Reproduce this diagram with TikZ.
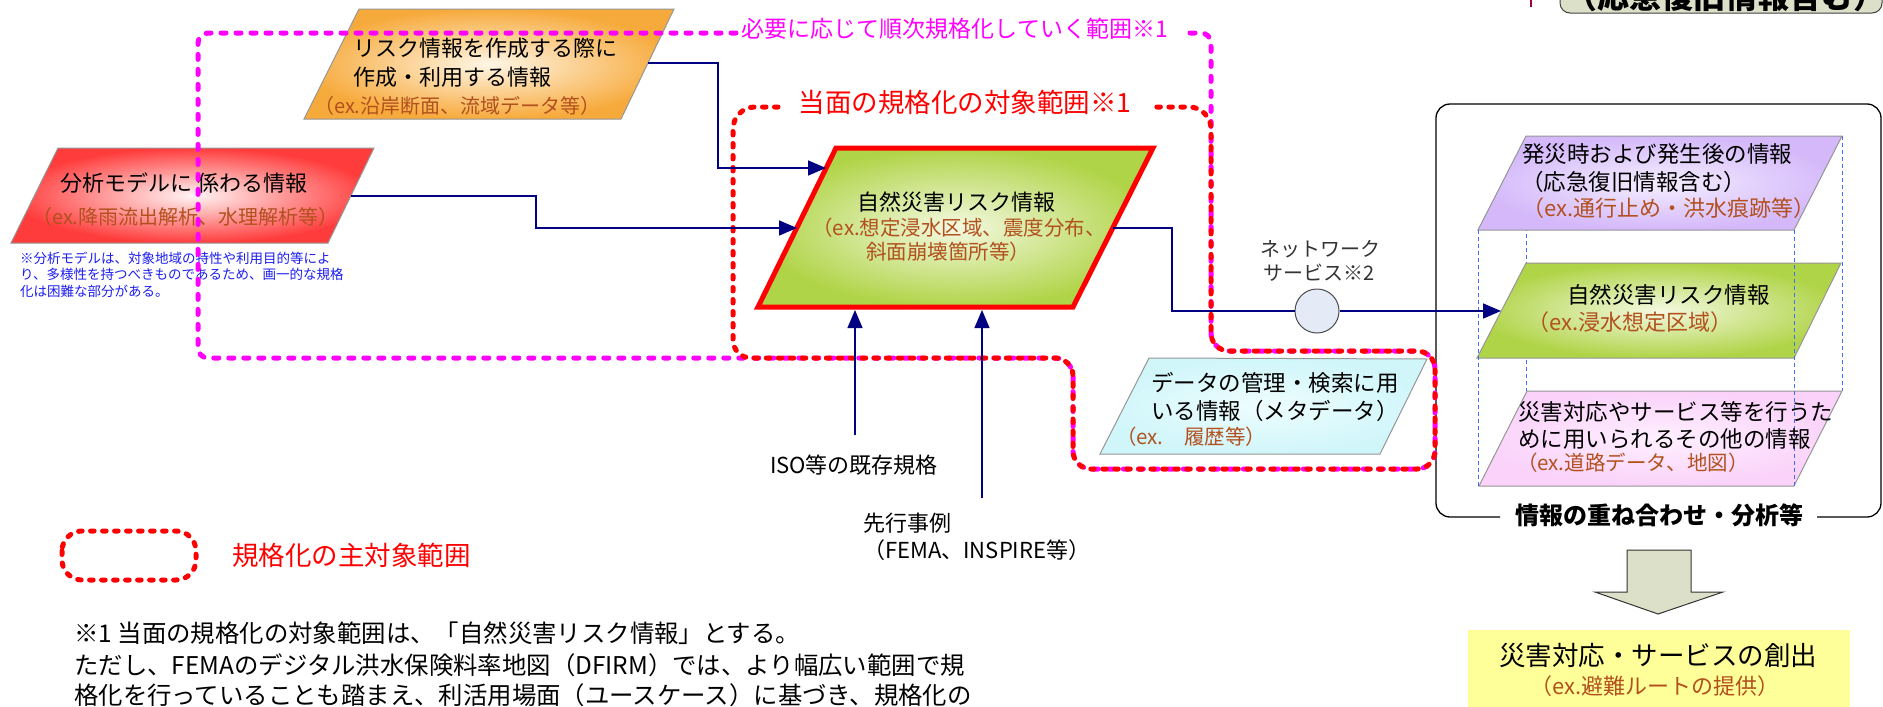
\documentclass[tikz,border=0pt]{standalone}
\usepackage{fontspec}
\setmainfont{Noto Sans CJK JP}
\usetikzlibrary{arrows.meta}
\definecolor{navyc}{RGB}{0,0,128}
\definecolor{exbrown}{RGB}{178,80,30}
\definecolor{magc}{RGB}{255,0,255}
\definecolor{redc}{RGB}{255,0,0}
\definecolor{notec}{RGB}{30,30,240}
\definecolor{edgegray}{RGB}{150,150,150}
\definecolor{khaki}{RGB}{221,224,201}
\definecolor{layerblue}{RGB}{60,110,255}
\definecolor{orOut}{RGB}{247,170,60}\definecolor{orIn}{RGB}{255,246,230}
\definecolor{rdOut}{RGB}{255,60,60}\definecolor{rdIn}{RGB}{255,245,245}
\definecolor{gnOut}{RGB}{176,212,72}\definecolor{gnIn}{RGB}{244,249,225}
\definecolor{cyOut}{RGB}{208,246,250}\definecolor{cyIn}{RGB}{238,253,254}
\definecolor{puOut}{RGB}{212,184,250}\definecolor{puIn}{RGB}{244,238,255}
\definecolor{pkOut}{RGB}{250,210,250}\definecolor{pkIn}{RGB}{255,240,255}
\definecolor{circf}{RGB}{228,234,246}
\definecolor{yel}{RGB}{255,255,153}
\definecolor{dgray}{RGB}{51,51,51}
\tikzset{
  fsz/.style={font=\fontsize{#1}{#1}\selectfont},
  tx/.style={inner sep=0pt, anchor=west, text=black},
  ctx/.style={inner sep=0pt, anchor=center, text=black},
  ex/.style={tx, text=exbrown},
  cex/.style={ctx, text=exbrown},
  conn/.style={draw=navyc, line width=1.6pt},
  arr/.style={conn, -{Triangle[length=18pt,width=15pt]}},
  para/.style={draw=edgegray, line width=1pt},
  magdash/.style={draw=magc, line width=5pt, line cap=round, dash pattern=on 5pt off 10pt},
  reddash/.style={draw=redc, line width=5pt, line cap=round, dash pattern=on 3.5pt off 8.5pt},
  layer/.style={draw=layerblue, line width=0.8pt, dash pattern=on 4pt off 3pt},
}
\begin{document}
\begin{tikzpicture}[x=1pt,y=-1pt]
\useasboundingbox (0,0) rectangle (1883,707);
\fill[white] (0,0) rectangle (1883,707);

% top-right partial box
\draw[draw=gray!50!black, fill=khaki, rounded corners=10pt, line width=1pt] (1560,-30) rectangle (1882,13);
\node[ctx, font=\fontsize{32}{32}\selectfont\bfseries] (topbox) at (1725,-4) {（応急復旧情報含む）};
\draw[draw=purple!85!black, line width=2.5pt] (1531,-5) coordinate (tickA) -- (1531,7) coordinate (tickB);

% parallelograms
\shadedraw[para, inner color=orIn, outer color=orOut] (359,9) -- (674,9) -- (621,119) -- (304,119) -- cycle;
\shadedraw[para, inner color=rdIn, outer color=rdOut] (58,148) -- (374,148) -- (328,243) -- (11,243) -- cycle;
\shadedraw[draw=redc, line width=5pt, inner color=gnIn, outer color=gnOut] (836,148) -- (1153,148) -- (1073,307) -- (758,307) -- cycle;
\shadedraw[para, inner color=cyIn, outer color=cyOut] (1149,358) -- (1427,359) -- (1380,454) -- (1100,454) -- cycle;

% right stack
\draw[layer] (1526,136) -- (1526,391);
\draw[layer] (1842,136) -- (1842,391);
\shadedraw[para, inner color=pkIn, outer color=pkOut] (1527,391) -- (1842,391) -- (1794,486) -- (1479,486) -- cycle;
\shadedraw[para, inner color=gnIn, outer color=gnOut] (1526,263) -- (1841,263) -- (1794,358) -- (1477,358) -- cycle;
\shadedraw[para, inner color=puIn, outer color=puOut] (1526,136) -- (1842,136) -- (1794,230) -- (1478,230) -- cycle;
\draw[layer] (1478,230) -- (1478,486);
\draw[layer] (1794,230) -- (1794,486);

% texts: orange
\node[tx, fsz=22] (o1) at (353,48) {リスク情報を作成する際に};
\node[tx, fsz=22] (o2) at (353,77) {作成・利用する情報};
\node[ex, fsz=20] (o3) at (314,106) {（ex.沿岸断面、流域データ等）};
% red
\node[tx, fsz=22] (r1) at (60,183) {分析モデルに 係わる情報};
\node[ex, fsz=20] (r2) at (32,217) {（ex.降雨流出解析、水理解析等）};
% note
\node[tx, fsz=13.5, text=notec] (n1) at (20,258) {※分析モデルは、対象地域の特性や利用目的等によ};
\node[tx, fsz=13.5, text=notec] (n2) at (20,274) {り、多様性を持つべきものであるため、画一的な規格};
\node[tx, fsz=13.5, text=notec] (n3) at (20,291) {化は困難な部分がある。};
% green main
\node[ctx, fsz=22] (g1) at (956,202) {自然災害リスク情報};
\node[cex, fsz=20.5] (g2) at (959,228) {（ex.想定浸水区域、震度分布、};
\node[cex, fsz=20.5] (g3) at (948,252) {斜面崩壊箇所等）};
% cyan
\node[tx, fsz=22.5] (c1) at (1151,383) {データの管理・検索に用};
\node[tx, fsz=22.5] (c2) at (1151,411) {いる情報（メタデータ）};
\node[ex, fsz=20.5] (c3) at (1116,437) {（ex.　履歴等）};
% purple
\node[tx, fsz=22.5] (p1) at (1522,154) {発災時および発生後の情報};
\node[tx, fsz=22.5] (p2) at (1521,182) {（応急復旧情報含む）};
\node[ex, fsz=22] (p3) at (1522,208) {（ex.通行止め・洪水痕跡等）};
% green right
\node[tx, fsz=22.5] (q1) at (1567,295) {自然災害リスク情報};
\node[ex, fsz=22] (q2) at (1527,322) {（ex.浸水想定区域）};
% pink
\node[tx, fsz=22.5] (k1) at (1518,412) {災害対応やサービス等を行うた};
\node[tx, fsz=22.5] (k2) at (1518,439) {めに用いられるその他の情報};
\node[ex, fsz=20.5] (k3) at (1517,463) {（ex.道路データ、地図）};

% inputs below green
\node[ctx, fsz=22] (iso) at (854,465) {ISO等の既存規格};
\node[tx, fsz=22] (sen1) at (863,523) {先行事例};
\node[tx, fsz=22] (sen2) at (863,550) {（FEMA、INSPIRE等）};

% network service
\node[ctx, fsz=20, text=dgray] (ns1) at (1320,249) {ネットワーク};
\node[ctx, fsz=20, text=dgray] (ns2) at (1319,273) {サービス※2};
\node[circle, draw=gray!60!black, fill=circf, minimum size=44pt, inner sep=0pt, line width=1pt] (ns) at (1317,311) {};

% big box with label gap
\draw[black, line width=1.3pt, rounded corners=14pt] (1500,517) -- (1436,517) -- (1436,104) -- (1881,104) -- (1881,517) -- (1817,517);
\node[ctx, font=\fontsize{24}{24}\selectfont\bfseries] (boxlab) at (1659,515) {情報の重ね合わせ・分析等};

% down block arrow
\draw[draw=gray!40!black, fill=khaki, line width=1pt] (1627,550) -- (1691,550) -- (1691,592) -- (1723,592) -- (1658,614) coordinate (downtip) -- (1595,592) -- (1627,592) -- cycle;

% yellow result box
\fill[yel] (1468,630) rectangle (1850,712);
\node[ctx, fsz=26.5] (y1) at (1658,655) {災害対応・サービスの創出};
\node[cex, fsz=22] (y2) at (1655,686) {（ex.避難ルートの提供）};

% legend
\draw[reddash, rounded corners=20pt] (62,531) rectangle (196,580);
\node[tx, fsz=26.5, text=redc] (leg) at (232,555) {規格化の主対象範囲};

% bottom note
\node[tx, fsz=24.4] (b1) at (74,633) {※1 当面の規格化の対象範囲は、「自然災害リスク情報」とする。};
\node[tx, fsz=24.4] (b2) at (74,665) {ただし、FEMAのデジタル洪水保険料率地図（DFIRM）では、より幅広い範囲で規};
\node[tx, fsz=24.4] (b3) at (74,695) {格化を行っていることも踏まえ、利活用場面（ユースケース）に基づき、規格化の};

% dashed scope shapes
\draw[magdash, rounded corners=10pt] (736,33) -- (198,33) -- (198,358) [rounded corners=18pt] -- (1073,358) -- (1073,469) -- (1435,469) -- (1435,351) -- (1211,351) [rounded corners=10pt] -- (1211,33) -- (1184,33);
\node[ctx, fsz=23, text=magc] (maglab) at (955,29) {必要に応じて順次規格化していく範囲※1};
\draw[reddash, rounded corners=22pt] (778,107) -- (733,107) [rounded corners=18pt] -- (733,358) -- (1073,358) -- (1073,469) -- (1435,469) -- (1435,351) -- (1211,351) [rounded corners=22pt] -- (1211,107) -- (1149,107);
\node[ctx, fsz=26.5, text=redc] (redlab) at (965,102) {当面の規格化の対象範囲※1};

% connectors
\coordinate (oOut) at (648,63);
\coordinate (gIn1) at (826,168);
\coordinate (rOut) at (351,196);
\coordinate (gIn2) at (797,228);
\coordinate (gOut) at (1113,228);
\coordinate (gRIn) at (1501,311);
\coordinate (isoTop) at (855,435);
\coordinate (gB1) at (855,310);
\coordinate (senTop) at (982,498);
\coordinate (gB2) at (982,310);
\draw[arr] (oOut) -- (718,63) -- (718,168) -- (gIn1);
\draw[arr] (rOut) -- (536,196) -- (536,228) -- (gIn2);
\draw[conn] (gOut) -- (1172,228) -- (1172,311) -- (ns.west);
\draw[arr] (ns.east) -- (gRIn);
\draw[arr, line width=1.2pt] (isoTop) -- (gB1);
\draw[arr, line width=1.2pt] (senTop) -- (gB2);
\end{tikzpicture}
\end{document}
